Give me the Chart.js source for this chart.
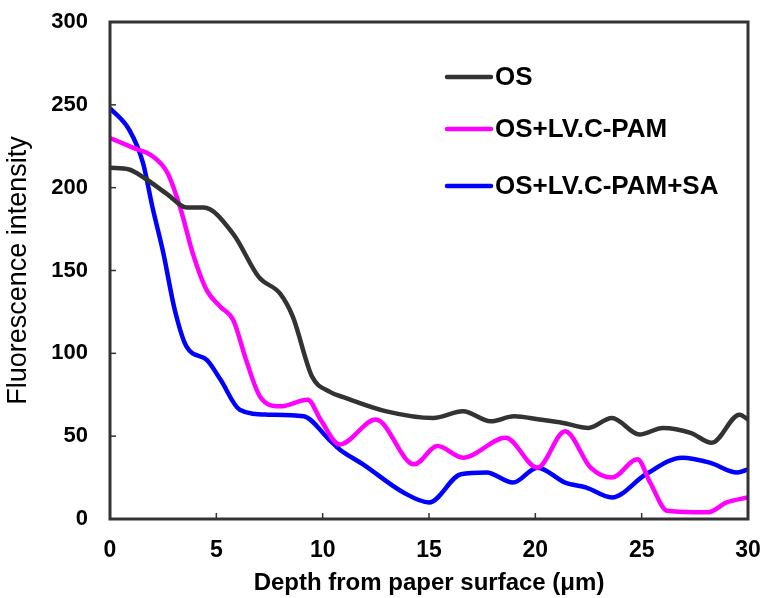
<!DOCTYPE html>
<html>
<head>
<meta charset="utf-8">
<script src="https://cdn.jsdelivr.net/npm/chart.js@4"></script>
<style>
  html, body { margin: 0; padding: 0; background: #fff; }
  #wrap { width: 766px; height: 598px; }
</style>
</head>
<body>
<div id="wrap"><canvas id="chart" width="766" height="598"></canvas></div>
<script>
const seriesNames = ['OS', 'OS+LV.C-PAM', 'OS+LV.C-PAM+SA'];
const seriesColors = ['#333333', '#ff00ff', '#0000ff'];

// depth (µm) and intensity
const osX   = [0, 0.9, 1.6, 2.7, 3.6, 4.4, 5.8, 7.0, 8.0, 8.6, 9.5, 10.3, 11.1, 13.0, 15.2, 16.6, 17.9, 19.0, 20.2, 21.3, 22.5, 23.6, 24.9, 26.0, 27.3, 28.3, 29.6, 30];
const osY   = [212, 211, 206, 196, 188, 188, 172, 146, 136, 122, 86, 77, 73, 65, 61, 65, 59, 62, 60, 58, 55, 61, 51, 55, 52, 46, 63, 60];

const pamX  = [0, 1.1, 2.0, 2.7, 3.3, 3.9, 4.55, 5.2, 5.8, 6.4, 7.05, 8.0, 9.3, 9.9, 10.8, 12.5, 14.3, 15.4, 16.6, 18.6, 20.1, 21.4, 22.6, 23.6, 24.8, 25.4, 26.2, 28.1, 29.0, 30];
const pamY  = [230, 224, 219, 209, 188, 160, 138, 128, 120, 96, 74, 68, 72, 60, 45, 60, 33, 44, 37, 49, 31, 53, 31, 25, 36, 22, 5, 4, 10, 13];

const saX   = [0, 0.9, 1.55, 2.0, 2.5, 3.05, 3.6, 4.55, 5.2, 6.1, 7.4, 9.1, 10.3, 10.8, 11.9, 13.8, 15.0, 16.5, 17.7, 18.95, 20.1, 21.4, 22.4, 23.6, 25.2, 26.9, 28.2, 29.5, 30];
const saY   = [248, 235, 215, 188, 161, 126, 104, 96, 84, 66, 63, 62, 48, 42, 33, 16, 10, 27, 28, 22, 31, 22, 19, 13, 27, 37, 34, 28, 30];

const xTicks = [0, 5, 10, 15, 20, 25, 30];
const yTicks = [0, 50, 100, 150, 200, 250, 300];

const pts = (xs, ys) => xs.map((x, i) => ({ x: x, y: ys[i] }));

const FONT = '"Liberation Sans", Arial, sans-serif';
const frameColor = '#333333';

// frame with inward ticks + legend drawn inside the plot
const decor = {
  id: 'decor',
  afterDraw(chart) {
    const { ctx, chartArea: a, scales } = chart;
    ctx.save();
    ctx.strokeStyle = frameColor;
    ctx.lineWidth = 1.5;
    scales.x.ticks.forEach(t => {
      const px = scales.x.getPixelForValue(t.value);
      ctx.beginPath(); ctx.moveTo(px, a.bottom); ctx.lineTo(px, a.bottom - 6); ctx.stroke();
    });
    scales.y.ticks.forEach(t => {
      const py = scales.y.getPixelForValue(t.value);
      ctx.beginPath(); ctx.moveTo(a.left, py); ctx.lineTo(a.left + 6, py); ctx.stroke();
    });
    ctx.lineWidth = 3;
    ctx.strokeRect(a.left, a.top, a.right - a.left, a.bottom - a.top);

    // legend
    const rows = [77, 129, 186];
    ctx.font = 'bold 26px ' + FONT;
    ctx.textBaseline = 'middle';
    chart.data.datasets.forEach((ds, i) => {
      ctx.strokeStyle = ds.borderColor;
      ctx.lineWidth = 4.5;
      ctx.lineCap = 'round';
      ctx.beginPath(); ctx.moveTo(447, rows[i]); ctx.lineTo(491, rows[i]); ctx.stroke();
      ctx.fillStyle = '#000';
      ctx.fillText(ds.label, 495, rows[i] + 1);
    });
    ctx.restore();
  }
};

const noPad = s => { s.paddingTop = 0; s.paddingBottom = 0; s.paddingLeft = 0; s.paddingRight = 0; };

new Chart(document.getElementById('chart'), {
  type: 'line',
  data: {
    datasets: [
      { label: seriesNames[0], data: pts(osX, osY), borderColor: seriesColors[0] },
      { label: seriesNames[1], data: pts(pamX, pamY), borderColor: seriesColors[1] },
      { label: seriesNames[2], data: pts(saX, saY), borderColor: seriesColors[2] },
    ].map(d => Object.assign(d, {
      borderWidth: 4.5,
      pointRadius: 0,
      fill: false,
      cubicInterpolationMode: 'monotone',
    }))
  },
  options: {
    responsive: false,
    animation: false,
    layout: { padding: { top: 22, right: 18, left: 0, bottom: 0 } },
    plugins: { legend: { display: false }, tooltip: { enabled: false } },
    scales: {
      x: {
        type: 'linear',
        min: 0, max: 30,
        afterBuildTicks: s => { s.ticks = xTicks.map(v => ({ value: v })); },
        afterFit: s => { s.height = 79; noPad(s); },
        grid: { drawOnChartArea: false, drawTicks: false },
        border: { display: false },
        ticks: {
          color: '#000',
          padding: 18,
          maxRotation: 0,
          font: { family: FONT, size: 23, weight: 'bold' },
        },
        title: {
          display: true,
          text: 'Depth from paper surface (\u03bcm)',
          color: '#000',
          padding: { top: 0, bottom: 0 },
          font: { family: FONT, size: 24, weight: 'bold' },
        },
      },
      y: {
        min: 0, max: 300,
        afterBuildTicks: s => { s.ticks = yTicks.map(v => ({ value: v })); },
        afterFit: s => { s.width = 110; noPad(s); },
        grid: { drawOnChartArea: false, drawTicks: false },
        border: { display: false },
        ticks: {
          color: '#000',
          padding: 22,
          font: { family: FONT, size: 22, weight: 'bold' },
        },
        title: {
          display: true,
          text: 'Fluorescence intensity',
          color: '#000',
          padding: { top: 2, bottom: 0 },
          font: { family: FONT, size: 27 },
        },
      },
    },
  },
  plugins: [decor],
});
</script>
</body>
</html>
